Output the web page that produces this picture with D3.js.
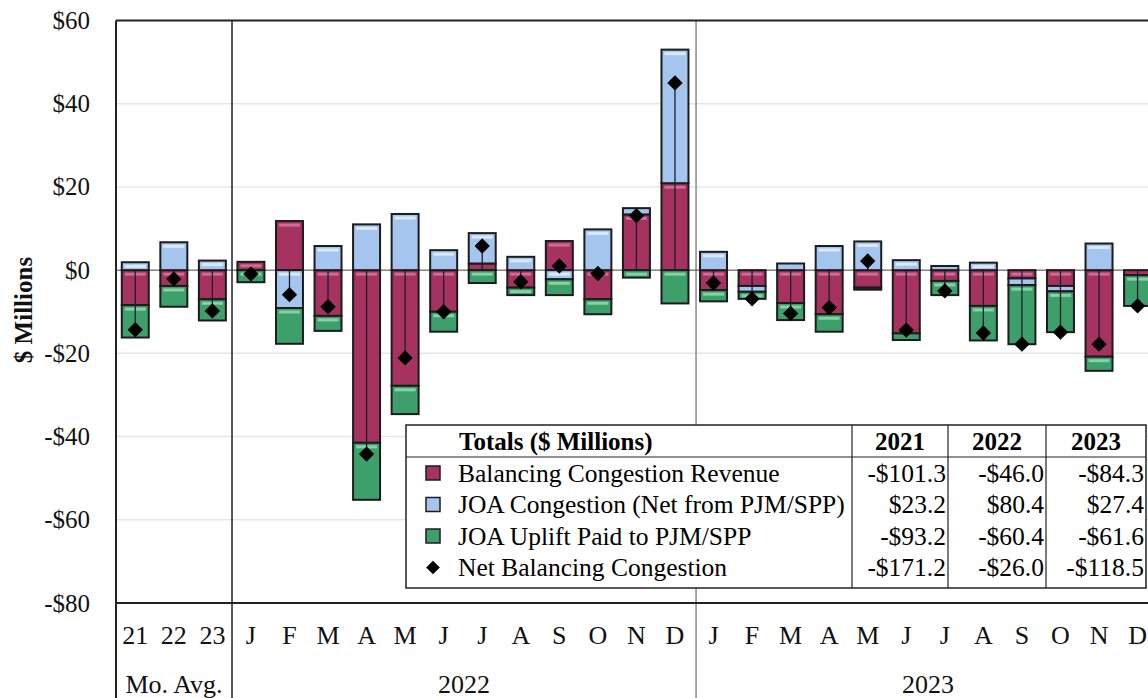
<!DOCTYPE html>
<html>
<head>
<meta charset="utf-8">
<script src="https://cdn.jsdelivr.net/npm/d3@7"></script>
<style>
  body { margin: 0; background: #fff; }
  svg { display: block; font-family: "Liberation Serif", "Times New Roman", serif; }
</style>
</head>
<body>
<div id="chart"></div>
<script>
const w = 1148;
const h = 698;

// category keys (unique) and the labels shown under them
const cats = ["a21","a22","a23",
  "22J","22F","22M","22A","22My","22Jn","22Jl","22Au","22S","22O","22N","22D",
  "23J","23F","23M","23A","23My","23Jn","23Jl","23Au","23S","23O","23N","23D"];
const catLabels = ["21","22","23",
  "J","F","M","A","M","J","J","A","S","O","N","D",
  "J","F","M","A","M","J","J","A","S","O","N","D"];
const groupNames = ["Mo. Avg.", "2022", "2023"];
const groupSpans = [[0, 3], [3, 15], [15, 27]];

// $ millions
const balancing = [-8.4, -3.8, -7.0,
  2.0, 11.8, -11.0, -41.5, -27.8, -10.0, 1.6, -4.2, 7.0, -7.0, 13.4, 20.9,
  -4.8, -3.8, -7.9, -10.6, -4.2, -15.2, -2.6, -8.6, -2.0, -3.8, -20.8, -1.2];
const joa = [1.9, 6.7, 2.3,
  0.0, -9.1, 5.8, 11.0, 13.5, 4.8, 7.3, 3.2, -2.2, 9.8, 1.5, 32.1,
  4.4, -1.4, 1.6, 5.8, 6.9, 2.4, 1.0, 1.8, -1.6, -1.3, 6.4, 0.0];
const uplift = [-7.8, -5.0, -5.1,
  -2.9, -8.6, -3.6, -13.7, -6.8, -4.8, -3.1, -1.8, -3.8, -3.6, -1.8, -8.0,
  -2.7, -1.7, -4.1, -4.2, -0.5, -1.6, -3.4, -8.3, -14.2, -9.8, -3.4, -7.4];

const yTicks = [-80, -60, -40, -20, 0, 20, 40, 60];

// legend table
const seriesNames = ["Balancing Congestion Revenue", "JOA Congestion (Net from PJM/SPP)",
  "JOA Uplift Paid to PJM/SPP", "Net Balancing Congestion"];
const tableYears = ["2021", "2022", "2023"];
const totals2021 = [-101.3, 23.2, -93.2, -171.2];
const totals2022 = [-46.0, 80.4, -60.4, -26.0];
const totals2023 = [-84.3, 27.4, -61.6, -118.5];

const colors = { balancing: "#a5325f", joa: "#a4c6ee", uplift: "#3d9f69" };
const shine = { balancing: "#cc6d94", joa: "#dbeafb", uplift: "#86d1a6" };
const keys = ["balancing", "joa", "uplift"];

const rows = cats.map((c, i) => ({
  cat: c, balancing: balancing[i], joa: joa[i], uplift: uplift[i],
  net: balancing[i] + joa[i] + uplift[i]
}));

const plot = { left: 116, top: 20.5, bottom: 603 };
const slot = 38.67;

const x = d3.scaleBand()
  .domain(cats)
  .range([plot.left, plot.left + 38.55 * cats.length])
  .paddingInner(0.3)
  .paddingOuter(0.15);

const y = d3.scaleLinear()
  .domain([-80, 60])
  .range([plot.bottom, plot.top]);

const svg = d3.select("#chart").append("svg")
  .attr("width", w)
  .attr("height", h);

// gridlines
svg.append("g")
  .selectAll("line")
  .data(yTicks.filter(d => d !== 0 && d !== 60 && d !== -80))
  .enter()
  .append("line")
  .attr("x1", plot.left)
  .attr("x2", w)
  .attr("y1", d => y(d))
  .attr("y2", d => y(d))
  .style("stroke", "#e6e6e6")
  .style("stroke-width", "1.5px");

// y axis labels
const yAxis = d3.axisLeft(y)
  .tickValues(yTicks)
  .tickSize(0)
  .tickPadding(26)
  .tickFormat(d => d < 0 ? "-$" + (-d) : "$" + d);

svg.append("g")
  .attr("transform", `translate(${plot.left}, 0)`)
  .call(yAxis)
  .call(g => g.select(".domain").remove())
  .selectAll("text")
  .style("font-family", "'Liberation Serif', serif")
  .style("font-size", "25px")
  .style("fill", "#111");

svg.append("text")
  .attr("transform", `translate(32, 310) rotate(-90)`)
  .attr("text-anchor", "middle")
  .style("font-size", "25px")
  .style("font-weight", "bold")
  .style("fill", "#111")
  .text("$ Millions");

// group separators (through the label rows)
const seps = [0, 3, 15];
svg.append("g")
  .selectAll("line")
  .data(seps)
  .enter()
  .append("line")
  .attr("x1", d => plot.left + d * slot)
  .attr("x2", d => plot.left + d * slot)
  .attr("y1", plot.top)
  .attr("y2", h)
  .style("stroke", (d, i) => i === 2 ? "#8a8a8a" : "#222")
  .style("stroke-width", (d, i) => i === 0 ? "2px" : "1.5px");

// zero line
svg.append("line")
  .attr("x1", plot.left)
  .attr("x2", w)
  .attr("y1", y(0))
  .attr("y2", y(0))
  .style("stroke", "#444")
  .style("stroke-width", "1px");

// stacked bars
const stack = d3.stack().keys(keys).offset(d3.stackOffsetDiverging);
const series = stack(rows);

const barG = svg.append("g");
series.forEach(s => {
  const k = s.key;
  const g = barG.append("g");
  const segs = s.filter(d => Math.abs(d[1] - d[0]) > 0.001);
  g.selectAll("rect.seg")
    .data(segs)
    .enter()
    .append("rect")
    .attr("class", "seg")
    .attr("x", d => x(d.data.cat))
    .attr("y", d => y(Math.max(d[0], d[1])))
    .attr("width", x.bandwidth())
    .attr("height", d => Math.abs(y(d[0]) - y(d[1])))
    .style("fill", colors[k])
    .style("stroke", "#1c1c1c")
    .style("stroke-width", "2px");
  g.selectAll("rect.shine")
    .data(segs.filter(d => Math.abs(y(d[0]) - y(d[1])) > 7))
    .enter()
    .append("rect")
    .attr("class", "shine")
    .attr("x", d => x(d.data.cat) + 3)
    .attr("y", d => y(Math.max(d[0], d[1])) + 2.5)
    .attr("width", x.bandwidth() - 6)
    .attr("height", 3)
    .style("fill", shine[k]);
});

// net lines and diamonds
svg.append("g")
  .selectAll("line")
  .data(rows)
  .enter()
  .append("line")
  .attr("x1", d => x(d.cat) + x.bandwidth() / 2)
  .attr("x2", d => x(d.cat) + x.bandwidth() / 2)
  .attr("y1", y(0))
  .attr("y2", d => y(d.net))
  .style("stroke", "#1d1d2e")
  .style("stroke-width", "1.3px");

svg.append("g")
  .selectAll("path")
  .data(rows)
  .enter()
  .append("path")
  .attr("d", d3.symbol().type(d3.symbolDiamond2).size(150))
  .attr("transform", d => `translate(${x(d.cat) + x.bandwidth() / 2}, ${y(d.net)})`)
  .style("fill", "#000");

// plot frame (top and bottom)
svg.append("line")
  .attr("x1", plot.left).attr("x2", w)
  .attr("y1", plot.top).attr("y2", plot.top)
  .style("stroke", "#222").style("stroke-width", "2px");
svg.append("line")
  .attr("x1", plot.left).attr("x2", w)
  .attr("y1", plot.bottom).attr("y2", plot.bottom)
  .style("stroke", "#222").style("stroke-width", "2px");

// x axis labels
const xAxis = d3.axisBottom(x)
  .tickSize(0)
  .tickFormat((d, i) => catLabels[i]);

svg.append("g")
  .attr("transform", `translate(0, ${plot.bottom})`)
  .call(xAxis)
  .call(g => g.select(".domain").remove())
  .selectAll("text")
  .attr("y", 32)
  .attr("dy", "0.35em")
  .style("font-family", "'Liberation Serif', serif")
  .style("font-size", "26px")
  .style("fill", "#111");

svg.append("g")
  .selectAll("text")
  .data(groupNames)
  .enter()
  .append("text")
  .attr("x", (d, i) => plot.left + slot * (groupSpans[i][0] + groupSpans[i][1]) / 2)
  .attr("y", 684)
  .attr("dy", "0.35em")
  .attr("text-anchor", "middle")
  .style("font-size", "26px")
  .style("fill", "#111")
  .text(d => d);

// legend table
const tb = { x0: 406, x1: 1146, y0: 425, y1: 588, head: 457 };
const colX = [852, 948, 1046];
const rowY = [473, 504.5, 536, 567.5];
const table = svg.append("g");

table.append("rect")
  .attr("x", tb.x0).attr("y", tb.y0)
  .attr("width", tb.x1 - tb.x0).attr("height", tb.y1 - tb.y0)
  .style("fill", "#fff")
  .style("stroke", "#222")
  .style("stroke-width", "1.5px");

table.append("line")
  .attr("x1", tb.x0).attr("x2", tb.x1)
  .attr("y1", tb.head).attr("y2", tb.head)
  .style("stroke", "#222").style("stroke-width", "1.2px");

table.selectAll("line.col")
  .data(colX)
  .enter()
  .append("line")
  .attr("class", "col")
  .attr("x1", d => d).attr("x2", d => d)
  .attr("y1", tb.y0).attr("y2", tb.y1)
  .style("stroke", "#222").style("stroke-width", "1.2px");

table.append("text")
  .attr("x", 459).attr("y", 441)
  .attr("dy", "0.35em")
  .style("font-size", "25px")
  .style("font-weight", "bold")
  .text("Totals ($ Millions)");

const colRight = [colX[1], colX[2], tb.x1];
table.selectAll("text.year")
  .data(tableYears)
  .enter()
  .append("text")
  .attr("class", "year")
  .attr("x", (d, i) => (colX[i] + colRight[i]) / 2)
  .attr("y", 441)
  .attr("dy", "0.35em")
  .attr("text-anchor", "middle")
  .style("font-size", "25px")
  .style("font-weight", "bold")
  .text(d => d);

table.selectAll("text.name")
  .data(seriesNames)
  .enter()
  .append("text")
  .attr("class", "name")
  .attr("x", 458)
  .attr("y", (d, i) => rowY[i])
  .attr("dy", "0.35em")
  .style("font-size", "25.5px")
  .text(d => d);

// swatches
table.selectAll("rect.sw")
  .data(keys)
  .enter()
  .append("rect")
  .attr("class", "sw")
  .attr("x", 426)
  .attr("y", (d, i) => rowY[i] - 7)
  .attr("width", 14)
  .attr("height", 14)
  .style("fill", d => colors[d])
  .style("stroke", "#1c1c1c")
  .style("stroke-width", "1.5px");

table.append("path")
  .attr("d", d3.symbol().type(d3.symbolDiamond2).size(120))
  .attr("transform", `translate(433, ${rowY[3]})`)
  .style("fill", "#000");

const fmt = v => (v < 0 ? "-$" : "$") + Math.abs(v).toFixed(1);
[totals2021, totals2022, totals2023].forEach((vals, c) => {
  table.selectAll(null)
    .data(vals)
    .enter()
    .append("text")
    .attr("x", colRight[c] - 2)
    .attr("y", (d, i) => rowY[i])
    .attr("dy", "0.35em")
    .attr("text-anchor", "end")
    .style("font-size", "25.5px")
    .text(d => fmt(d));
});
</script>
</body>
</html>
